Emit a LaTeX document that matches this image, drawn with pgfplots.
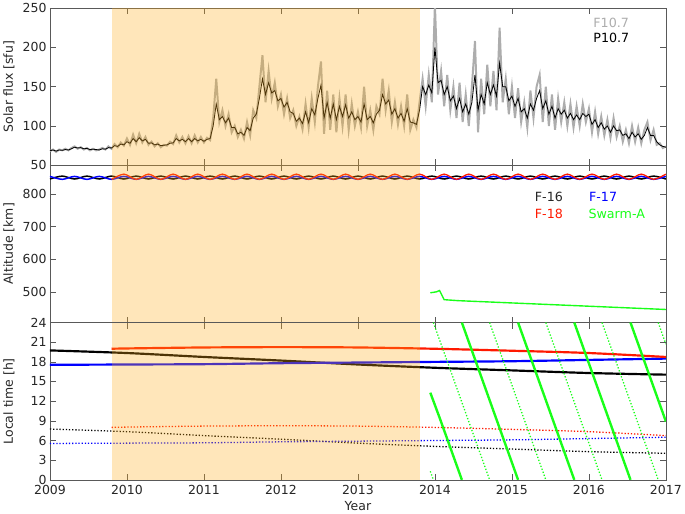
\documentclass[border=0pt]{standalone}
\usepackage{fontspec}
\setmainfont{DejaVu Sans}
\usepackage{pgfplots}
\pgfplotsset{compat=1.18}
\usepackage{pgfplotstable}
\definecolor{shade}{rgb}{1,0.68,0.1}
\definecolor{fgray}{gray}{0.68}
\definecolor{lgreen}{rgb}{0.1,1,0.1}
\definecolor{axgray}{gray}{0.35}
\definecolor{myred}{rgb}{1,0.1,0}

\pgfplotstableread{
t F P
2009.00 68 68.5
2009.04 70 69.5
2009.08 67 68
2009.12 70 69.5
2009.16 69 69
2009.20 71 70
2009.24 69 69.5
2009.28 72 71
2009.32 74 73
2009.36 71 72
2009.40 73 72.5
2009.44 70 71
2009.48 72 71.5
2009.52 69 70
2009.56 71 70.5
2009.60 69 70
2009.64 70 69.5
2009.68 72 71
2009.72 70 70.5
2009.76 74 72.5
2009.80 71 72
2009.84 77 75
2009.88 73 74
2009.92 79 77
2009.96 75 76
2010.00 84 80
2010.04 76 78
2010.08 89 84
2010.12 78 80
2010.16 90 85
2010.20 79 81
2010.24 86 83
2010.28 76 78
2010.32 80 78.5
2010.36 74 76
2010.40 78 77
2010.44 73 75
2010.48 76 75.5
2010.52 75 76
2010.56 80 78
2010.60 77 78.5
2010.64 88 84
2010.68 79 81
2010.72 86 83
2010.76 78 80
2010.80 87 84
2010.84 78 80
2010.88 88 84
2010.92 79 81
2010.96 86 83
2011.00 79 80.5
2011.04 85 83
2011.08 82 84
2011.12 110 100
2011.16 160 128
2011.20 105 108
2011.24 120 112
2011.28 100 104
2011.32 115 110
2011.36 92 98
2011.40 100 98
2011.44 86 90
2011.48 95 92
2011.52 84 88
2011.56 105 98
2011.60 88 94
2011.64 120 110
2011.68 110 115
2011.72 150 135
2011.76 190 160
2011.80 130 140
2011.84 170 155
2011.88 135 142
2011.92 155 145
2011.96 125 132
2012.00 140 135
2012.04 115 124
2012.08 135 130
2012.12 110 118
2012.16 120 116
2012.20 100 106
2012.24 112 110
2012.28 96 103
2012.32 128 118
2012.36 98 104
2012.40 135 122
2012.44 105 114
2012.48 150 135
2012.52 182 152
2012.56 90 110
2012.60 145 130
2012.64 95 110
2012.68 140 128
2012.72 92 108
2012.76 135 125
2012.80 100 112
2012.84 140 127
2012.88 95 110
2012.92 128 118
2012.96 100 108
2013.00 118 112
2013.04 98 105
2013.08 150 128
2013.12 100 108
2013.16 120 112
2013.20 95 104
2013.24 125 115
2013.28 115 120
2013.32 160 140
2013.36 120 128
2013.40 145 133
2013.44 105 115
2013.48 130 122
2013.52 102 110
2013.56 125 116
2013.60 100 106
2013.64 140 122
2013.68 95 105
2013.72 108 104
2013.76 98 102
2013.80 130 120
2013.84 160 150
2013.88 125 140
2013.92 165 152
2013.96 130 142
2014.00 255 200
2014.04 140 155
2014.08 170 158
2014.12 125 140
2014.16 165 150
2014.20 120 132
2014.24 150 138
2014.28 110 122
2014.32 155 135
2014.36 105 118
2014.40 140 128
2014.44 100 115
2014.48 150 130
2014.52 208 165
2014.56 92 120
2014.60 160 140
2014.64 115 128
2014.68 178 155
2014.72 125 140
2014.76 170 152
2014.80 120 138
2014.84 225 180
2014.88 130 150
2014.92 160 150
2014.96 115 132
2015.00 150 138
2015.04 110 125
2015.08 148 135
2015.12 105 118
2015.16 130 122
2015.20 98 110
2015.24 145 128
2015.28 110 120
2015.32 150 135
2015.36 165 145
2015.40 105 122
2015.44 150 132
2015.48 100 115
2015.52 140 125
2015.56 95 110
2015.60 135 122
2015.64 105 115
2015.68 130 120
2015.72 100 110
2015.76 128 116
2015.80 98 108
2015.84 125 114
2015.88 100 108
2015.92 128 116
2015.96 105 112
2016.00 122 115
2016.04 92 102
2016.08 118 108
2016.12 90 98
2016.16 112 104
2016.20 88 96
2016.24 108 100
2016.28 85 92
2016.32 110 100
2016.36 86 94
2016.40 100 95
2016.44 80 88
2016.48 95 90
2016.52 78 84
2016.56 100 92
2016.60 80 86
2016.64 98 90
2016.68 78 83
2016.72 95 88
2016.76 105 98
2016.80 82 88
2016.84 95 88
2016.88 76 80
2016.92 78 76
2016.96 72 74
2017.00 74 73
}\fluxdata

\pgfplotstableread{
t a b c
2009.00 846 854 861
2009.16 855 845 845
2009.32 846 854 861
2009.48 855 845 845
2009.64 846 854 861
2009.80 855 845 845
2009.96 846 854 861
2010.12 855 845 845
2010.28 846 854 861
2010.44 855 845 845
2010.60 846 854 861
2010.76 855 845 845
2010.92 846 854 861
2011.08 855 845 845
2011.24 846 854 861
2011.40 855 845 845
2011.56 846 854 861
2011.72 855 845 845
2011.88 846 854 861
2012.04 855 845 845
2012.20 846 854 861
2012.36 855 845 845
2012.52 846 854 861
2012.68 855 845 845
2012.84 846 854 861
2013.00 855 845 845
2013.16 846 854 861
2013.32 855 845 845
2013.48 846 854 861
2013.64 855 845 845
2013.80 846 854 861
2013.96 855 845 845
2014.12 846 854 861
2014.28 855 845 845
2014.44 846 854 861
2014.60 855 845 845
2014.76 846 854 861
2014.92 855 845 845
2015.08 846 854 861
2015.24 855 845 845
2015.40 846 854 861
2015.56 855 845 845
2015.72 846 854 861
2015.88 855 845 845
2016.04 846 854 861
2016.20 855 845 845
2016.36 846 854 861
2016.52 855 845 845
2016.68 846 854 861
2016.84 855 845 845
2017.00 846 854 861
}\altdata

\pgfplotsset{
  panel/.style={
    width=620bp, height=158.3bp, scale only axis,
    xmin=2009, xmax=2017, xtick={2009,...,2017},
    tick align=inside,
    axis line style={axgray},
    tick style={axgray, line width=0.6pt},
    major tick length=6bp,
    /pgf/number format/assume math mode=true,
    /pgf/number format/1000 sep={},
    tick label style={font=\fontsize{12.6}{14}\selectfont, text=black!85},
    x tick label style={yshift=-1.5bp},
    label style={font=\fontsize{12.6}{14}\selectfont, text=black!85},
    y label style={at={(axis description cs:-0.052,0.5)}, anchor=south},
    unbounded coords=jump,
  },
  dots/.style={line width=1.3pt, dash pattern=on 1.3pt off 1.9pt},
}
\tikzset{txt/.style={font=\fontsize{12.8}{14}\selectfont, anchor=west, inner sep=0pt}}

\begin{document}
\begin{tikzpicture}
% ---------- Solar flux ----------
\begin{axis}[panel, name=top, xticklabels={},
  ymin=50, ymax=250, ytick={50,100,150,200,250},
  ylabel={Solar flux [sfu]}]
\addplot[fgray, line width=2pt] table[x=t, y=F] {\fluxdata};
\addplot[black, line width=0.8pt] table[x=t, y=P] {\fluxdata};
\addplot[draw=none, fill=shade, fill opacity=0.3] coordinates {(2009.8,250) (2013.8,250)} \closedcycle;
\node[txt, text=fgray] at (rel axis cs:0.882,0.905) {F10.7};
\node[txt, text=black] at (rel axis cs:0.882,0.809) {P10.7};
\end{axis}
% ---------- Altitude ----------
\begin{axis}[panel, name=mid, at={(top.south west)}, anchor=north west,
  xticklabels={},
  ymin=407, ymax=888, ytick={500,600,700,800},
  ylabel={Altitude [km]}]
\addplot[black, line width=1.5pt, smooth] table[x=t, y=a] {\altdata};
\addplot[blue, line width=1.5pt, smooth] table[x=t, y=b] {\altdata};
\addplot[myred, line width=1.3pt, smooth, restrict x to domain=2009.79:2018] table[x=t, y=c] {\altdata};
\addplot[lgreen, line width=1.4pt] coordinates {
(2013.94,498) (2014.02,501) (2014.06,505) (2014.12,477) (2014.3,474) (2014.6,471)
(2015.0,467) (2015.5,462) (2016.0,457) (2016.5,452) (2017.0,447)};
\addplot[draw=none, fill=shade, fill opacity=0.3] coordinates {(2009.8,888) (2013.8,888)} \closedcycle;
\node[txt, text=black!85] at (rel axis cs:0.787,0.80) {F-16};
\node[txt, text=blue] at (rel axis cs:0.875,0.80) {F-17};
\node[txt, text=myred] at (rel axis cs:0.787,0.694) {F-18};
\node[txt, text=lgreen] at (rel axis cs:0.874,0.694) {Swarm-A};
\end{axis}
% ---------- Local time ----------
\begin{axis}[panel, name=bot, at={(mid.south west)}, anchor=north west,
  ymin=0, ymax=24, ytick={0,3,...,24},
  xlabel={Year}, ylabel={Local time [h]}]
\addplot[black, line width=2.2pt, smooth] coordinates {
(2009,19.75) (2010,19.35) (2011,18.75) (2012,18.2) (2013,17.6) (2014,17.1) (2015,16.7) (2016,16.3) (2017,16.05)};
\addplot[blue, line width=2.2pt, smooth] coordinates {
(2009,17.55) (2010,17.6) (2011,17.65) (2012,17.8) (2013,17.9) (2014,18.0) (2015,18.1) (2016,18.3) (2017,18.5)};
\addplot[myred, line width=2.2pt, smooth] coordinates {
(2009.8,20.0) (2010,20.05) (2011,20.2) (2012,20.25) (2013,20.2) (2014,20.0) (2015,19.7) (2016,19.35) (2017,18.75)};
\addplot[black, dots, smooth] coordinates {
(2009,7.75) (2010,7.35) (2011,6.75) (2012,6.2) (2013,5.6) (2014,5.1) (2015,4.7) (2016,4.3) (2017,4.05)};
\addplot[blue, dots, smooth] coordinates {
(2009,5.55) (2010,5.6) (2011,5.65) (2012,5.8) (2013,5.9) (2014,6.0) (2015,6.1) (2016,6.3) (2017,6.5)};
\addplot[myred, dots, smooth] coordinates {
(2009.8,8.0) (2010,8.05) (2011,8.2) (2012,8.25) (2013,8.2) (2014,8.0) (2015,7.7) (2016,7.35) (2017,6.75)};
\addplot[lgreen, line width=2.4pt] coordinates {
(2013.94,13.3) (2014.06,9.5) (2014.35,0) (2014.35,nan)
(2014.35,24) (2015.08,0) (2015.08,nan)
(2015.08,24) (2015.81,0) (2015.81,nan)
(2015.81,24) (2016.54,0) (2016.54,nan)
(2016.54,24) (2017.0,8.9)};
\addplot[lgreen, dots] coordinates {
(2013.94,1.3) (2013.98,0) (2013.98,nan)
(2013.98,24) (2014.71,0) (2014.71,nan)
(2014.71,24) (2015.44,0) (2015.44,nan)
(2015.44,24) (2016.17,0) (2016.17,nan)
(2016.17,24) (2016.90,0) (2016.90,nan)
(2016.90,24) (2017.0,20.7)};
\addplot[draw=none, fill=shade, fill opacity=0.3] coordinates {(2009.8,24) (2013.8,24)} \closedcycle;
\end{axis}
\end{tikzpicture}
\end{document}
